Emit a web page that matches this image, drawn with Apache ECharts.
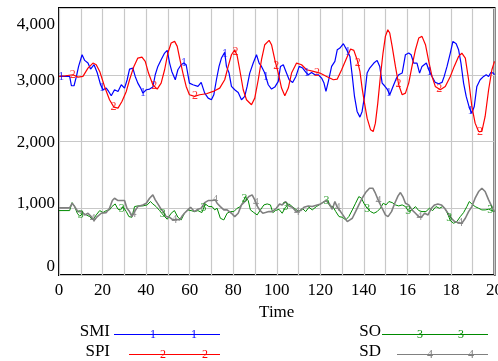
<!DOCTYPE html>
<html><head><meta charset="utf-8">
<script src="https://cdn.jsdelivr.net/npm/echarts@6/dist/echarts.min.js"></script>
<style>html,body{margin:0;padding:0;background:#fff;overflow:hidden}#c{width:498px;height:361px}</style>
</head><body><div id="c"></div>
<script>
const xTickLabels = ['0','20','40','60','80','100','120','140','16','18','20'];
const yTickLabels = ['0','1,000','2,000','3,000','4,000'];

const smiT = [0,4.9,5.7,6.9,8,9,10.6,11.8,13.3,14.5,16.1,17.6,19.1,20.2,21.7,22.8,24,25.5,27.1,28.6,30.1,31.3,32.4,33.9,35,36.2,37.5,38.5,40.1,41.6,43.1,44.2,45.4,46.9,48.5,49.7,50.8,51.8,53.4,54.6,56.1,57.3,58.4,59.9,61.5,63.8,65.3,65.9,66.9,68.5,70,71.1,72.3,73.5,74.6,76.1,76.9,78.1,79.2,80.7,82.3,83.8,85.3,86.4,87.6,89.2,90.7,91.9,93,94.5,96.1,97.6,99.1,100.7,101.7,103,104.2,105.7,107.3,108.8,110.3,111.9,113.4,114.5,116,117.5,119.1,120.6,121.7,122.6,123.7,125.2,126.7,127.8,129,130.6,132.1,133.6,134.7,135.7,136.9,138.2,139.2,140.3,141.5,142.7,144.6,146.1,147.3,148.4,149.5,150.7,151.9,153.4,155,156,157.6,159.1,160.6,161.7,162.9,164.4,165.6,166.7,168.7,169.8,171.3,172.8,174.4,175.9,176.9,178.2,179.7,180.9,182.4,183.5,184.6,185.8,187,188.5,189.6,190.7,191.9,193.4,195,196.2,197.3,198.3,199.5,200];
const smiV = [2975,2975,2835,2835,2975,3125,3300,3215,3175,3085,3150,3025,2850,2775,2800,2750,2685,2775,2750,2850,2800,2925,3085,3100,2975,2875,2800,2725,2775,2785,2815,3000,3125,3225,3325,3365,3175,3050,2925,3075,3150,3175,3150,2875,2850,2825,2885,2900,2725,2650,2625,2700,2925,3125,3250,3335,3125,3025,2825,2775,2735,2625,2675,2825,3025,3175,3300,3175,3125,3025,2850,2785,2815,2900,3125,3150,3050,2925,2885,2975,3125,3100,3035,3000,3035,3000,3000,2950,2875,2750,2900,3125,3200,3375,3400,3465,3375,3275,2975,2675,2450,2365,2450,2675,3025,3100,3175,3215,3125,2875,2835,2785,2700,2825,2950,3000,3025,3300,3325,3300,3175,3175,3025,3125,3175,3075,2975,2885,2865,2885,2975,3125,3325,3500,3465,3375,3175,2875,2675,2500,2425,2525,2825,2925,2975,3000,2975,3035,3025,3000];

const spiT = [0,3,6.4,8.7,11,13.3,15.6,17.1,18.7,20.9,23.2,25.2,27.1,28.9,30.9,32.4,34.4,36.2,38.1,39.6,41.1,43.1,45.1,46.9,48.5,50,51.5,53.1,54.3,55.4,56.9,58.4,59.9,62.2,64.6,67.7,70.8,73.8,76.1,77.7,79.2,80.7,81.8,83,84.6,86.1,88.4,89.9,91.5,93,94.5,96.5,97.6,99.1,100.7,102.2,103.7,105.3,106.8,109.1,111.4,113.7,116.8,119.8,122.9,126,127.8,129.8,132.1,133.9,135.4,136.9,138.2,139.2,140.3,141.5,143.1,144.3,145.3,146.4,147.6,148.8,149.9,151,151.9,153,154.5,156,157.6,159.1,160.6,162.1,163.7,165.2,166.7,168.3,169.8,171.3,172.8,175.1,177.4,179.7,181.5,183.5,185,186.6,188.1,189.6,191.1,192.7,194.2,195.7,197.3,198.8,200];
const spiV = [2975,2985,3000,2965,2975,3100,3175,3150,3050,2825,2625,2515,2500,2600,2750,2925,3125,3250,3265,3200,3025,2850,2785,2875,3075,3325,3475,3500,3425,3250,3025,2825,2700,2675,2700,2715,2750,2800,2925,3125,3300,3375,3285,3075,2775,2625,2550,2650,2925,3225,3450,3515,3450,3225,3025,2800,2685,2800,3025,3175,3150,3075,3050,3025,2975,2925,2935,3075,3250,3385,3365,3225,3050,2800,2575,2350,2175,2150,2275,2575,2975,3325,3575,3675,3625,3425,3125,2850,2700,2725,2875,3125,3375,3550,3575,3450,3200,2975,2825,2775,2825,2975,3125,3275,3325,3250,2925,2525,2275,2150,2150,2375,2775,3075,3200];

const soT = [0,4.9,6,7.2,8.4,9.5,11,12.5,14.1,15.6,17.1,18.7,20.2,21.7,23.2,24.3,25.8,27.1,28.3,29.4,30.9,32.1,33.5,34.7,36.2,38.5,40.5,42,43.1,44.6,46.2,47.2,48.5,49.7,51.5,53,54.6,56.1,57.6,59.2,60.7,62.2,63.8,65.6,67.2,68.8,70.3,71.5,72.6,74.1,75.7,77.2,78.7,80.3,81.8,83.3,84.4,85.6,86.9,87.9,89.5,91,92.5,94.1,95.6,97.1,98.2,99.4,101,102.5,104,105.6,107.1,108.7,110.2,111.7,113.3,114.8,116.3,118.2,120.2,121.7,123.2,124.3,125.8,127.1,128.6,130.1,131.7,133.1,134.7,136.2,137.7,138.9,140,141.5,143.1,144.6,146.1,147.6,148.9,150.2,151.5,153,154.5,156,157.6,159.1,160.6,162.1,163.7,165.2,166.7,168.5,170.1,171.6,173.1,174.7,176.2,177.7,178.9,179.7,181.2,182.7,184.3,185.8,187.3,188.4,189.6,191.1,192.7,194.2,195.7,197.3,198.8,200];
const soV = [965,965,1085,1025,925,880,925,900,875,825,900,965,935,965,975,1025,1065,985,975,1025,950,875,865,1025,1035,1035,1050,1100,1065,1025,965,925,875,835,925,965,865,825,925,975,965,950,965,935,1065,1025,1025,975,1000,850,825,925,950,950,1000,1025,1085,1175,1115,975,935,900,975,1050,1065,1050,935,965,985,925,1015,1065,1025,985,950,1000,950,1015,975,1025,1065,1100,1115,1035,1025,950,875,865,825,875,975,1075,1175,1150,1075,1000,950,925,950,1000,1075,1050,1100,1085,1050,1035,1050,1025,950,975,1025,965,950,950,1000,965,1025,1000,1025,975,885,815,775,800,875,935,1025,1100,1065,1025,1000,975,975,985,965,950];

const sdT = [0,4.9,6,7.2,8.7,10.6,11.8,13.3,14.8,16.1,17.6,19.4,21.7,23.2,24.5,25.5,27.1,28.9,30.1,31.2,32.4,33.5,34.7,36.2,38.5,40.1,41.6,43.1,44.2,45.4,46.9,48.2,49.2,50.8,52.3,53.8,55.4,56.4,57.6,59.2,60.4,62.2,63.8,65.3,66.9,68.5,70.3,71.8,72.6,74.1,75.7,77.2,79.2,80.7,82.3,83.8,85.3,87.2,88.7,89.9,91,92.1,93.6,94.8,96.4,97.9,99.8,101.3,102.5,104,105.6,107.1,109,111,112.5,114.5,116.3,118.6,120.2,122.5,124,125.5,126.7,127.8,129.3,130.9,132.4,133.6,134.7,136.2,137.7,139.2,140.8,142.6,144.1,145.3,146.9,148.4,149.9,151.1,152.7,154.2,155.7,156.8,157.9,159.1,160.6,162.1,163.7,165.2,166.4,167.9,169.5,171,172.5,174,175.6,177.1,178.6,180.2,181.7,183.2,185,186.6,188.1,189.6,191.1,192.7,194.2,195.7,197.3,198.8,200];
const sdV = [1005,1005,1075,1025,950,950,900,925,875,815,875,925,935,1000,1115,1150,1115,1115,1115,1000,950,875,950,1025,1050,1075,1150,1200,1125,1065,985,935,875,865,825,835,825,875,925,975,1015,950,985,1000,1085,1115,1115,1125,1075,1025,975,975,925,875,925,1050,1100,1175,1200,1125,1035,975,925,935,950,950,1000,1065,1050,1100,1035,1015,950,965,1015,1035,1025,1050,1065,1115,1075,985,1100,1015,950,875,800,825,850,950,1050,1150,1235,1300,1300,1225,1100,1000,900,875,950,1075,1185,1235,1175,1075,1050,975,925,875,865,925,900,1000,1050,1065,1050,1000,925,850,800,785,775,850,950,1025,1150,1250,1300,1250,1125,1025,950];

// times at which the series number is written on each curve
const smiMarkT = [1,19.8,38.6,57.4,76.2,95,113.8,132.6,151.4,170.2,189];
const spiMarkT = [6.3,25,43.7,62.4,81.1,99.8,118.5,137.2,155.9,174.6,193.3];
const soMarkT  = [10,28.8,47.6,66.4,85.2,104,122.8,141.6,160.4,179.2,198];
const sdMarkT  = [15.5,34.25,53,71.75,90.5,109.25,128,146.75,165.5,184.25];

const SERIF = '"Liberation Serif","DejaVu Serif",serif';
const C = {smi:'#0000ff', spi:'#ff0000', so:'#008a00', sd:'#808080'};

function pairs(T,V){return T.map((t,i)=>[t,V[i]]);}
function interp(T,V,t){
  for(let i=1;i<T.length;i++){ if(T[i]>=t){const f=(t-T[i-1])/(T[i]-T[i-1]);return V[i-1]+f*(V[i]-V[i-1]);} }
  return V[V.length-1];
}
function lineS(name,T,V,color,w){
  return {name,type:'line',data:pairs(T,V),showSymbol:false,symbol:'none',smooth:false,
    lineStyle:{color,width:w},itemStyle:{color},silent:true,z:3};
}
function markS(T,V,M,digit,color){
  return {type:'scatter',data:M.map(t=>[t,interp(T,V,t)]),symbol:'circle',symbolSize:1,
    itemStyle:{color:'rgba(0,0,0,0)'},silent:true,z:4,
    label:{show:true,position:'inside',formatter:digit,color,fontFamily:SERIF,fontSize:12}};
}
const yPad = [[0,0,16,0],[0,0,10,0],[2,0,0,0],[12,0,0,0],[34,0,0,0]];
const rich = {};
yPad.forEach((p,i)=>{rich['y'+i]={padding:p,fontFamily:SERIF,fontSize:17,color:'#000'};});

const chart = echarts.init(document.getElementById('c'),null,{renderer:'canvas'});
function leg(label,x0,x1,xt,y,color,digit,dx){
  const els=[{type:'text',style:{text:label,x:xt,y:y,align:'right',verticalAlign:'middle',font:'17px '+SERIF,fill:'#000'}},
    {type:'line',shape:{x1:x0,y1:y+2.5,x2:x1,y2:y+2.5},style:{stroke:color,lineWidth:1}}];
  dx.forEach(x=>els.push({type:'text',style:{text:digit,x:x,y:y+2.5,align:'center',verticalAlign:'middle',font:'12px '+SERIF,fill:color}}));
  return els;
}
chart.setOption({
  animation:false,
  grid:{left:59,right:3.5,top:8,bottom:86,containLabel:false,outerBoundsMode:'none',
    show:true,borderColor:'#000',borderWidth:2,backgroundColor:'transparent'},
  xAxis:{type:'value',min:0,max:200,interval:10,
    name:'Time',nameLocation:'middle',nameGap:26,nameTextStyle:{fontFamily:SERIF,fontSize:17,color:'#000'},
    axisLine:{show:false},axisTick:{show:false},
    splitLine:{show:true,lineStyle:{color:'#c8c8c8',width:1.2}},
    axisLabel:{margin:7,fontFamily:SERIF,fontSize:17,color:'#000',
      formatter:v=>(v%20===0?xTickLabels[v/20]:'')}},
  yAxis:{type:'value',min:0,max:4000,interval:1000,
    axisLine:{show:false},axisTick:{show:false},
    splitLine:{show:true,lineStyle:{color:'#c8c8c8',width:1.2}},
    axisLabel:{margin:4,fontFamily:SERIF,fontSize:17,color:'#000',rich:rich,
      formatter:v=>'{y'+(v/1000)+'|'+yTickLabels[v/1000]+'}'}},
  series:[
    lineS('SMI',smiT,smiV,C.smi,1.2),
    lineS('SPI',spiT,spiV,C.spi,1.2),
    lineS('SO',soT,soV,C.so,1),
    lineS('SD',sdT,sdV,C.sd,1.6),
    markS(smiT,smiV,smiMarkT,'1',C.smi),
    markS(spiT,spiV,spiMarkT,'2',C.spi),
    markS(soT,soV,soMarkT,'3',C.so),
    markS(sdT,sdV,sdMarkT,'4',C.sd)
  ],
  graphic:[].concat(
    leg('SMI',114,220,110,332,C.smi,'1',[153,194]),
    leg('SPI',129,220,110,352,C.spi,'2',[163,205]),
    leg('SO',382,488,381,332,C.so,'3',[420,461]),
    leg('SD',397,488,381,352,C.sd,'4',[430,471])
  )
});
</script></body></html>
